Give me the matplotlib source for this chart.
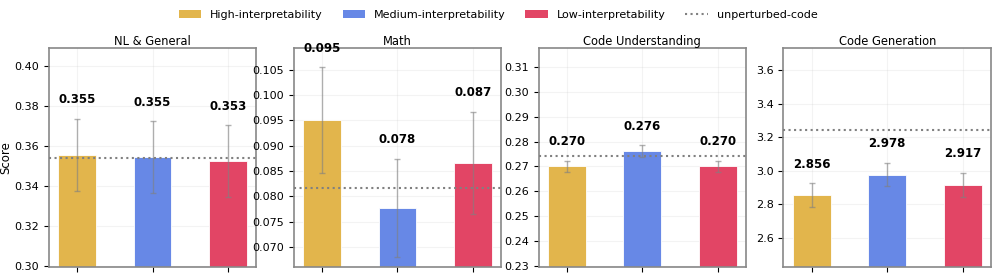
import numpy as np
import matplotlib.pyplot as plt
from matplotlib.patches import Patch
from matplotlib.lines import Line2D

tasks = ['NL & General', 'Math', 'Code Understanding', 'Code Generation']
groups = ['High-interpretability', 'Medium-interpretability', 'Low-interpretability']
colors = ['#E2B54C', '#6788E6', '#E24565']

means = [
    [0.3555, 0.3545, 0.3525],
    [0.0950, 0.0777, 0.0866],
    [0.2700, 0.2762, 0.2700],
    [2.856, 2.978, 2.917],
]
errs = [
    [0.0180, 0.0178, 0.0178],
    [0.0105, 0.0097, 0.0101],
    [0.0023, 0.0023, 0.0023],
    [0.069, 0.070, 0.071],
]
labels = [
    ['0.355', '0.355', '0.353'],
    ['0.095', '0.078', '0.087'],
    ['0.270', '0.276', '0.270'],
    ['2.856', '2.978', '2.917'],
]
baseline = [0.354, 0.0816, 0.2741, 3.245]

fig, axes = plt.subplots(1, 4, figsize=(9.96, 2.78), dpi=100)
x = np.arange(3)

for i, ax in enumerate(axes):
    m = means[i]
    ax.bar(x, m, width=0.5, color=colors, edgecolor='white', linewidth=0.6, zorder=2)
    ax.errorbar(x, m, yerr=errs[i], fmt='none', ecolor='grey', alpha=0.6,
                capsize=2, elinewidth=1, capthick=1, zorder=3)
    ax.axhline(baseline[i], color='grey', linestyle=':', linewidth=1.5, zorder=4)
    for j in range(3):
        ax.annotate(labels[i][j], (x[j], m[j] + errs[i][j]), xytext=(0, 9),
                    textcoords='offset points', ha='center', va='bottom',
                    fontsize=8.5, fontweight='bold')
    lo = min(m) * 0.85
    hi = max(max(m), baseline[i]) * 1.15
    ax.set_ylim(lo, hi)
    ax.set_xticks(x)
    ax.set_xticklabels([])
    ax.set_title(tasks[i], fontsize=8.3, pad=2.5)
    ax.tick_params(axis='y', labelsize=8)
    ax.grid(True, alpha=0.15, zorder=0)
    for s in ax.spines.values():
        s.set_color('#888888')
        s.set_linewidth(1.2)

axes[0].set_ylabel('Score', fontsize=8.5)
axes[0].yaxis.set_label_coords(-0.175, 0.5)

handles = [Patch(facecolor=c) for c in colors]
handles.append(Line2D([0], [0], color='grey', linestyle=':', linewidth=1.5))
fig.legend(handles, groups + ['unperturbed-code'], loc='upper center', ncol=4,
           frameon=False, fontsize=8, bbox_to_anchor=(0.5, 1.0), columnspacing=1.8)

plt.subplots_adjust(left=0.049, right=0.995, top=0.827, bottom=0.04, wspace=0.18)
fig.savefig('out.png', dpi=100)
